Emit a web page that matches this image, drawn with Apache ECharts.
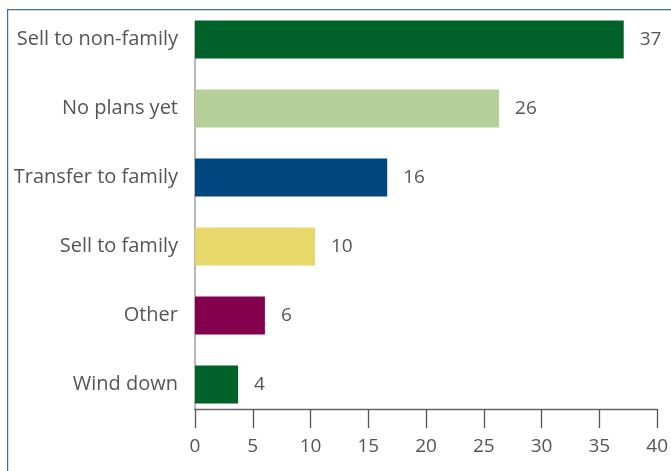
<!DOCTYPE html>
<html>
<head>
<meta charset="utf-8">
<script src="https://cdn.jsdelivr.net/npm/echarts@6/dist/echarts.min.js"></script>
<style>
  html, body { margin: 0; padding: 0; background: #fff; overflow: hidden; }
  #chart { width: 671px; height: 471px; }
</style>
</head>
<body>
<div id="chart"></div>
<script>
const categories = ['Sell to non-family', 'No plans yet', 'Transfer to family', 'Sell to family', 'Other', 'Wind down'];
const values = [36.8, 26.1, 16.5, 10.3, 6.0, 3.7];
const valueLabels = ['37', '26', '16', '10', '6', '4'];
const barColors = ['#006129', '#b5cf99', '#00467f', '#e8d86a', '#85004c', '#006129'];
const xTicks = [0, 5, 10, 15, 20, 25, 30, 35, 40];

const FONT = '"Open Sans", "Noto Sans", sans-serif';
const FRAME = '#3f6f9e';
const chart = echarts.init(document.getElementById('chart'), null, { renderer: 'canvas' });
chart.setOption({
  animation: false,
  backgroundColor: '#ffffff',
  graphic: {
    elements: [
      { type: 'rect', silent: true, z: 100, left: 7, top: 9, shape: { width: 700, height: 1.2 }, style: { fill: FRAME } },
      { type: 'rect', silent: true, z: 100, left: 7, top: 9, shape: { width: 1.2, height: 500 }, style: { fill: FRAME } }
    ]
  },
  grid: [
    { left: 195, right: 10, top: 5, bottom: 52, containLabel: false },
    { left: 195, right: 10, top: 22, bottom: 62, containLabel: false }
  ],
  xAxis: [{
    gridIndex: 0,
    type: 'value',
    min: xTicks[0],
    max: xTicks[xTicks.length - 1],
    interval: 5,
    show: false
  }, {
    gridIndex: 1,
    type: 'value',
    min: xTicks[0],
    max: xTicks[xTicks.length - 1],
    interval: 5,
    axisLine: { show: true, lineStyle: { color: '#666', width: 1.3 } },
    axisTick: { show: true, length: 19, lineStyle: { color: '#555', width: 1.3 } },
    axisLabel: { color: '#555', fontFamily: FONT, fontSize: 19, margin: 28 },
    splitLine: { show: false }
  }],
  yAxis: [{
    gridIndex: 0,
    type: 'category',
    inverse: true,
    data: categories,
    axisLine: { show: false },
    axisTick: { show: false },
    axisLabel: { color: '#555', fontFamily: FONT, fontSize: 20, margin: 17 }
  }, {
    gridIndex: 1,
    type: 'category',
    data: [''],
    axisLine: { show: true, lineStyle: { color: '#a0a0a0', width: 1.5 } },
    axisTick: { show: false },
    axisLabel: { show: false }
  }],
  series: [{
    type: 'bar',
    xAxisIndex: 0,
    yAxisIndex: 0,
    barWidth: 38,
    data: values.map((v, i) => ({ value: v, itemStyle: { color: barColors[i] } })),
    label: {
      show: true,
      position: 'right',
      distance: 16,
      color: '#555',
      fontFamily: FONT,
      fontSize: 19,
      formatter: p => valueLabels[p.dataIndex]
    }
  }]
});
</script>
</body>
</html>
